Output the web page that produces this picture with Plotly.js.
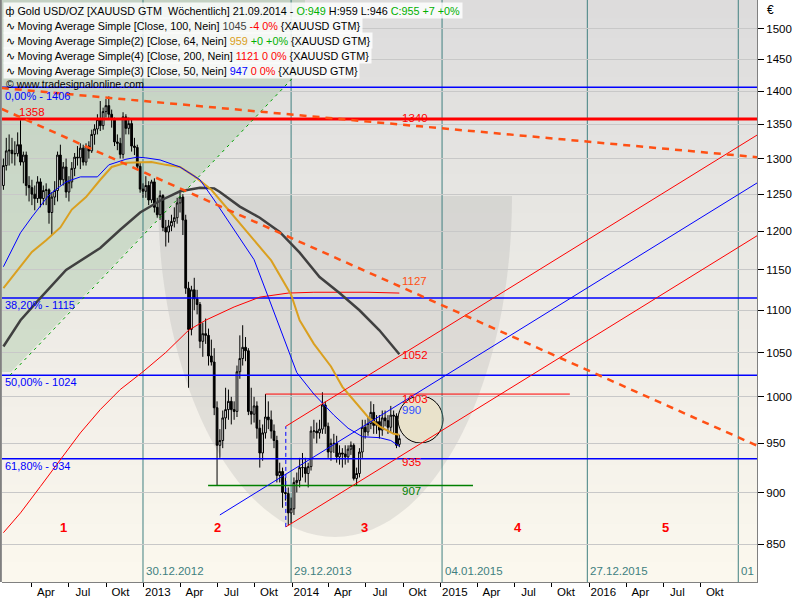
<!DOCTYPE html>
<html><head><meta charset="utf-8">
<script src="https://cdn.plot.ly/plotly-3.0.1.min.js"></script>
<style>html,body{margin:0;padding:0;background:#fff}#chart{width:800px;height:600px}</style>
</head><body><div id="chart"></div>
<script>
// ---- weekly candles (EUR per oz), week ending dates from 2012-01-22 step 7 days ----
const firstWeek = '2012-01-22';
const openVals = [1262,1290,1311,1312,1307,1307,1320,1295,1305,1262,1259,1250,1244,1267,1244,1255,1256,1225,1246,1255,1305,1270,1288,1253,1267,1286,1302,1301,1315,1295,1318,1311,1335,1343,1357,1348,1369,1378,1365,1357,1324,1322,1306,1361,1344,1351,1318,1316,1289,1257,
1254,1262,1242,1267,1232,1222,1248,1205,1199,1207,1213,1218,1238,1246,1215,1127,1077,1125,1114,1107,1063,1072,1070,1046,1039,988,948,953,977,986,995,986,984,1028,1043,1056,1052,984,981,990,966,940,961,978,975,963,953,917,921,900,899,880,
884,910,912,925,925,919,926,963,963,961,965,991,968,941,950,950,936,940,939,936,944,948,914,919,941,967,962,971,983,969,973,964,977,974,967,980,979,949];
const highVals = [1300,1330,1335,1330,1325,1338,1356,1310,1310,1275,1270,1262,1275,1272,1262,1265,1258,1253,1268,1310,1320,1295,1300,1275,1295,1308,1318,1322,1320,1322,1325,1342,1350,1365,1385,1375,1388,1392,1372,1360,1335,1330,1368,1365,1360,1358,1330,1320,1295,1265,
1275,1268,1270,1272,1245,1255,1250,1215,1215,1222,1232,1245,1255,1250,1222,1135,1130,1140,1125,1110,1085,1090,1078,1065,1055,995,965,985,1010,1008,1000,995,1035,1070,1082,1068,1055,1010,1000,995,975,970,1003,995,985,970,958,930,925,915,905,895,
915,920,935,940,935,930,968,975,972,975,1005,995,972,955,960,958,948,945,948,948,952,950,925,945,975,975,978,995,992,980,980,985,985,980,990,985,982,959];
const lowVals = [1256,1283,1290,1293,1290,1303,1290,1265,1248,1240,1235,1228,1238,1232,1235,1235,1210,1195,1235,1240,1262,1262,1245,1240,1258,1275,1290,1285,1290,1290,1300,1308,1320,1335,1340,1342,1360,1358,1345,1318,1312,1300,1300,1335,1335,1310,1305,1285,1252,1245,
1245,1235,1238,1225,1218,1215,1200,1180,1185,1200,1205,1210,1225,1195,1120,1010,1070,1100,1095,1055,1045,1060,1035,1035,980,907,935,945,965,975,970,975,978,1020,1035,1040,980,970,972,955,925,932,955,965,955,945,910,910,885,892,868,870,
878,900,905,915,910,905,922,955,950,955,960,960,935,932,940,930,928,925,928,930,938,912,907,915,935,955,958,965,960,960,955,958,968,960,962,960,945,946];
const closeVals = [1290,1311,1312,1307,1307,1320,1295,1305,1262,1259,1250,1244,1267,1244,1255,1256,1225,1246,1255,1305,1270,1288,1253,1267,1286,1302,1301,1315,1295,1318,1311,1335,1343,1357,1348,1369,1378,1365,1357,1324,1322,1306,1361,1344,1351,1318,1316,1289,1257,1254,
1262,1242,1267,1232,1222,1248,1205,1199,1207,1213,1218,1238,1246,1215,1127,1077,1125,1114,1107,1063,1072,1070,1046,1039,988,948,953,977,986,995,986,984,1028,1043,1056,1052,984,981,990,966,940,961,978,975,963,953,917,921,900,899,880,884,
910,912,925,925,919,926,963,963,961,965,991,968,941,950,950,936,940,939,936,944,948,914,919,941,967,962,971,983,969,973,964,977,974,967,980,979,948,955];

// ---- moving averages, read at sample weeks (week index, value) ----
const sma50Weeks  = [0,6,10,16,22,27,33,37,43,47,50,55,62,69,74,81,88,93,101,103,109,116,121,126,132,136,139];
const sma50Vals   = [1154,1198,1219,1249,1267,1274,1274,1291,1299,1302,1301,1298,1288,1270,1242,1202,1163,1116,1045,1027,1003,980,966,957,956,953,947];
const sma64Weeks  = [0,6,10,15,20,24,29,34,38,43,48,52,57,62,67,73,80,87,94,101,104,109,115,119,124,128,132,137,139];
const sma64Vals   = [1127,1154,1173,1188,1205,1229,1246,1270,1288,1294,1294,1295,1291,1288,1275,1256,1224,1193,1162,1119,1088,1060,1034,1011,993,978,968,960,959];
const sma100Weeks = [0,6,13,22,34,41,48,55,62,69,74,76,83,90,97,104,111,118,125,132,139];
const sma100Vals  = [1057,1088,1115,1150,1178,1202,1225,1241,1254,1259,1258,1253,1233,1218,1199,1172,1141,1121,1100,1076,1048];
const sma200Weeks = [0,6,13,20,27,34,41,49,57,65,71,81,90,100,109,118,128,139];
const sma200Vals  = [861,880,906,933,961,986,1008,1028,1050,1076,1088,1104,1116,1121,1122,1122,1122,1121];

// ---- drawn levels and trend lines ----
const fibLevels = [1406, 1115, 1024, 934];
const fibLabels = ['0,00% - 1406', '38,20% - 1115', '50,00% - 1024', '61,80% - 934'];
const resistLevel = 1358;
const level1003 = {x: ['2013-10-27', '2015-11-14'], y: [1003, 1003]};
const level907  = {x: ['2013-06-08', '2015-03-21'], y: [907, 907]};
const upperDashed = {x: ['2012-01-18', '2017-02-16'], y: [1405, 1302]};
const lowerDashed = {x: ['2012-01-18', '2017-02-16'], y: [1373, 947.6]};
const channelLow  = {x: ['2013-12-16', '2017-02-16'], y: [866.5, 1194]};
const channelHigh = {x: ['2013-12-16', '2017-02-16'], y: [968, 1334]};
const channelMid  = {x: ['2013-07-07', '2017-02-16'], y: [878, 1265.5]};
const channelStart = {x: ['2013-12-16', '2013-12-16'], y: [866.5, 968]};
const greenFan = {x: ['2012-02-07', '2014-01-13'], y: [1024, 1428]};

const rightLabels = ['1340', '1127', '1052', '1003', '990', '935', '907'];
const yearLineDates = ['2012-12-30', '2013-12-29', '2015-01-04', '2015-12-27', '2017-01-01'];
const yearLineLabels = ['30.12.2012', '29.12.2013', '04.01.2015', '27.12.2015', '01'];
const waveLabels = ['1', '2', '3', '4', '5'];
const xTickVals = ['2012-04-01','2012-07-01','2012-10-01','2013-01-01','2013-04-01','2013-07-01','2013-10-01','2014-01-01','2014-04-01','2014-07-01','2014-10-01','2015-01-01','2015-04-01','2015-07-01','2015-10-01','2016-01-01','2016-04-01','2016-07-01','2016-10-01'];
const xTickText = ['Apr','Jul','Okt','2013','Apr','Jul','Okt','2014','Apr','Jul','Okt','2015','Apr','Jul','Okt','2016','Apr','Jul','Okt'];
const yTickVals = [850,900,950,1000,1050,1100,1150,1200,1250,1300,1350,1400,1450,1500];

// ---- build ----
const t0 = Date.UTC(2012, 0, 22);
const weekDate = i => new Date(t0 + i * 7 * 86400000).toISOString().slice(0, 10);
const weekDates = closeVals.map((_, i) => weekDate(i));
const X0 = '2012-01-18 12:00', X1 = '2017-02-16';
const FONT = 'Liberation Sans, Arial, sans-serif';

function line(xs, ys, color, width, dash) {
  return {type: 'scatter', mode: 'lines', x: xs, y: ys, hoverinfo: 'skip',
          line: {color: color, width: width, dash: dash || 'solid'}};
}

const traces = [];
traces.push({type: 'candlestick', x: weekDates, open: openVals, high: highVals, low: lowVals, close: closeVals,
  increasing: {line: {color: '#000', width: 1}, fillcolor: '#ffffff'},
  decreasing: {line: {color: '#000', width: 1}, fillcolor: '#000000'},
  whiskerwidth: 0, hoverinfo: 'skip'});

fibLevels.forEach(v => traces.push(line([X0, X1], [v, v], '#0000ff', 1.5)));
traces.push(line([X0, X1], [resistLevel, resistLevel], '#ff0000', 3));
traces.push(line(level1003.x, level1003.y, '#ff0000', 1));
traces.push(line(level907.x, level907.y, '#008000', 1.5));
traces.push(line(greenFan.x, greenFan.y, '#00a000', 1, '3px,4px'));
traces.push(line(sma200Weeks.map(weekDate), sma200Vals, '#ff0000', 1));
traces.push(line(sma100Weeks.map(weekDate), sma100Vals, '#404040', 2.5));
traces.push(line(sma64Weeks.map(weekDate), sma64Vals, '#daa020', 2));
traces.push(line(sma50Weeks.map(weekDate), sma50Vals, '#0000ff', 1));
traces.push(line(channelLow.x, channelLow.y, '#ff0000', 1));
traces.push(line(channelHigh.x, channelHigh.y, '#ff0000', 1));
traces.push(line(channelMid.x, channelMid.y, '#0000ff', 1));
traces.push(line(channelStart.x, channelStart.y, '#0000ff', 1, '4px,3px'));
traces.push(line(upperDashed.x, upperDashed.y, '#ff5014', 2.5, '7px,6px'));
traces.push(line(lowerDashed.x, lowerDashed.y, '#ff5014', 2.5, '7px,6px'));

// pixel helpers for paper coordinates (plot area 755x582 starting at x=2)
const px = x => (x - 2) / 755;
const py = y => 1 - y / 582;

const shapes = [];
// background gradient
const NB = 30, gradTop = [220, 220, 220], gradBot = [252, 248, 238];
for (let b = 0; b < NB; b++) {
  const f = (b + 0.5) / NB;
  const c = gradTop.map((t, j) => Math.round(t + (gradBot[j] - t) * f));
  shapes.push({type: 'rect', xref: 'paper', yref: 'paper', x0: 0, x1: 1, y0: 1 - (b + 1) / NB, y1: 1 - b / NB + 0.001,
    fillcolor: `rgb(${c[0]},${c[1]},${c[2]})`, line: {width: 0}, layer: 'below'});
}
// green fan area
shapes.push({type: 'path', xref: 'paper', yref: 'paper', layer: 'below', line: {width: 0},
  fillcolor: 'rgba(140,185,140,0.30)',
  path: `M 0,${py(372)} L ${px(11)},${py(372)} L ${px(305)},${py(65)} L ${px(305)},1 L 0,1 Z`});
// cup
const cupX = 335, cupTop = 196, cupRx = 177, cupRy = 341, kb = 0.5523;
shapes.push({type: 'path', xref: 'paper', yref: 'paper', layer: 'below', line: {width: 0},
  fillcolor: 'rgba(150,150,150,0.20)',
  path: `M ${px(cupX - cupRx)},${py(cupTop)} C ${px(cupX - cupRx)},${py(cupTop + cupRy * kb)} ${px(cupX - cupRx * kb)},${py(cupTop + cupRy)} ${px(cupX)},${py(cupTop + cupRy)} ` +
        `C ${px(cupX + cupRx * kb)},${py(cupTop + cupRy)} ${px(cupX + cupRx)},${py(cupTop + cupRy * kb)} ${px(cupX + cupRx)},${py(cupTop)} Z`});
// ellipse at the end
shapes.push({type: 'circle', xref: 'paper', yref: 'paper', layer: 'below', x0: px(398), x1: px(443), y0: py(443), y1: py(396),
  fillcolor: '#e9e2cb', line: {color: '#000', width: 1}});
// year lines
yearLineDates.forEach(d => shapes.push({type: 'line', xref: 'x', yref: 'paper', x0: d, x1: d, y0: 0, y1: 1,
  line: {color: '#408080', width: 1}, layer: 'below'}));
// left border
shapes.push({type: 'line', xref: 'paper', yref: 'paper', x0: -0.0015, x1: -0.0015, y0: 0, y1: 1, line: {color: '#808080', width: 2}});

const ann = [];
const green = '#00b000';
const LF = 10.8;
const legendRows = [
  `ф Gold USD/OZ [XAUUSD GTM  Wöchentlich] 21.09.2014 - <span style="color:${green}">O:${openVals[139]}</span> H:${highVals[139]} L:${lowVals[139]} <span style="color:${green}">C:${closeVals[139]} +7 +0%</span>`,
  `∿ Moving Average Simple [Close, 100, Nein] <span style="color:#404040">1045</span> <span style="color:#ff0000">-4 0%</span> {XAUUSD GTM}`,
  `∿ Moving Average Simple(2) [Close, 64, Nein] <span style="color:#daa020">${sma64Vals[sma64Vals.length - 1]}</span> <span style="color:${green}">+0 +0%</span> {XAUUSD GTM}`,
  `∿ Moving Average Simple(4) [Close, 200, Nein] <span style="color:#ff0000">${sma200Vals[sma200Vals.length - 1]} 0 0%</span> {XAUUSD GTM}`,
  `∿ Moving Average Simple(3) [Close, 50, Nein] <span style="color:#0000ff">${sma50Vals[sma50Vals.length - 1]}</span> <span style="color:#ff0000">0 0%</span> {XAUUSD GTM}`
];
legendRows.forEach((t, r) => ann.push({xref: 'paper', yref: 'paper', x: px(3), y: py(10.5 + 15 * r), xanchor: 'left', yanchor: 'middle',
  text: t, showarrow: false, bgcolor: 'rgba(255,255,255,0.82)', borderpad: 1.5, font: {family: FONT, size: LF, color: '#000'}}));
ann.push({xref: 'paper', yref: 'paper', x: px(4), y: py(84), xanchor: 'left', yanchor: 'middle', showarrow: false,
  text: '© www.tradesignalonline.com', font: {family: FONT, size: 10.5, color: '#000'}});

// fib labels under lines
fibLevels.forEach((v, i) => ann.push({xref: 'paper', yref: 'y', x: px(3), y: Math.log10(v), xanchor: 'left', yanchor: 'top',
  yshift: i === 0 ? -1 : 1, showarrow: false, text: fibLabels[i], font: {family: FONT, size: 11, color: '#0000ff'}}));
ann.push({xref: 'paper', yref: 'y', x: px(17), y: Math.log10(resistLevel), xanchor: 'left', yanchor: 'bottom', yshift: -1,
  showarrow: false, text: String(resistLevel), font: {family: FONT, size: 11.5, color: '#ff0000'}});

const rightY = [118, 281, 355, 399, 410, 462, 491];
const rightC = ['#ff0000', '#ff5014', '#ff0000', '#ff0000', '#3050ff', '#ff0000', '#008000'];
rightLabels.forEach((t, i) => ann.push({xref: 'paper', yref: 'paper', x: px(400), y: py(rightY[i]), xanchor: 'left', yanchor: 'middle',
  showarrow: false, text: t, font: {family: FONT, size: 11.5, color: rightC[i]}}));

yearLineDates.forEach((d, i) => ann.push({xref: 'x', yref: 'paper', x: d, y: py(571), xanchor: 'left', yanchor: 'middle', xshift: 1,
  showarrow: false, text: yearLineLabels[i], font: {family: FONT, size: 11.5, color: '#408080'}}));

const waveX = [64, 217, 364, 518, 665];
waveLabels.forEach((t, i) => ann.push({xref: 'paper', yref: 'paper', x: px(waveX[i]), y: py(527), xanchor: 'center', yanchor: 'middle',
  showarrow: false, text: '<b>' + t + '</b>', font: {family: FONT, size: 13, color: '#ff0000'}}));

ann.push({xref: 'paper', yref: 'paper', x: px(765), y: py(10), xanchor: 'left', yanchor: 'middle', showarrow: false,
  text: '€', font: {family: FONT, size: 12, color: '#000'}});

const layout = {
  width: 800, height: 600,
  margin: {l: 2, r: 43, t: 0, b: 18, pad: 0},
  paper_bgcolor: '#ffffff', plot_bgcolor: '#e8e8e6',
  showlegend: false, dragmode: false, boxgap: 0.12,
  xaxis: {type: 'date', range: [X0, X1], rangeslider: {visible: false}, showgrid: false, zeroline: false,
    tickmode: 'array', tickvals: xTickVals, ticktext: xTickText, ticks: 'outside', ticklen: 4, tickcolor: '#000',
    ticklabelshift: 14, ticklabelstandoff: -5, tickfont: {family: FONT, size: 11.5, color: '#000'},
    showline: true, linecolor: '#808080', linewidth: 1},
  yaxis: {type: 'log', side: 'right', range: [Math.log10(815.5), Math.log10(1548)],
    tickmode: 'array', tickvals: yTickVals, ticktext: yTickVals.map(String), ticks: 'outside', ticklen: 6, tickcolor: '#000',
    showgrid: true, gridcolor: '#c8c8c8', gridwidth: 1, zeroline: false,
    showline: true, linecolor: '#808080', linewidth: 1,
    tickfont: {family: FONT, size: 11.5, color: '#000'}},
  shapes: shapes, annotations: ann
};

Plotly.newPlot('chart', traces, layout, {staticPlot: true, displayModeBar: false});
</script></body></html>
